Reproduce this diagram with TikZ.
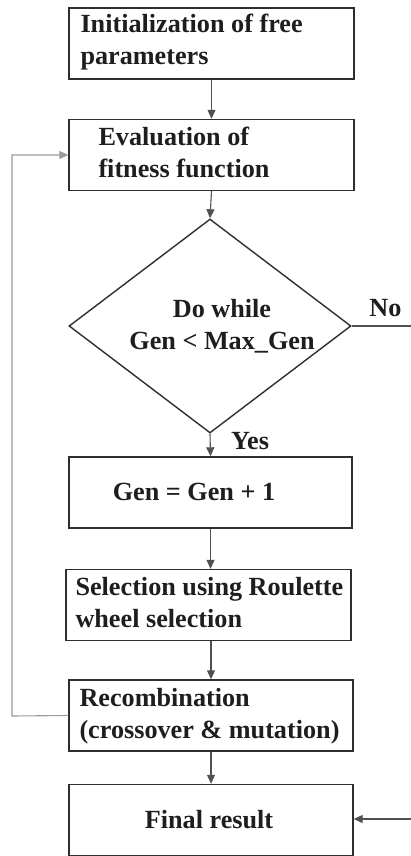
\documentclass[tikz,border=0pt]{standalone}
\usepackage{fontspec}
\setmainfont{Liberation Serif}
\usetikzlibrary{arrows.meta,shapes.geometric}
\definecolor{edge}{HTML}{2E2E2E}
\definecolor{wire}{HTML}{505050}
\definecolor{loopwire}{HTML}{9A9A9A}
\definecolor{ink}{HTML}{1E1E1E}
\tikzset{
  box/.style={draw=edge, line width=1.4pt, minimum width=285pt, minimum height=71pt, inner sep=0pt},
  txt/.style={font=\fontsize{26.2}{32}\selectfont\bfseries, align=left, inner sep=0pt, text=ink},
  flow/.style={draw=wire, line width=1.1pt, -{Triangle[length=9pt,width=8pt]}},
  back/.style={draw=loopwire, line width=1.1pt, -{Triangle[length=9pt,width=8pt]}},
}
\begin{document}
\begin{tikzpicture}[x=1pt,y=-1pt]
\useasboundingbox (0,0) rectangle (411,856);

% process boxes
\node[box] (init) at (211.5,43.5) {};
\node[box] (eval) at (211.5,155) {};
\node[draw=edge, line width=1.4pt, diamond, minimum width=282pt, minimum height=214pt, inner sep=0pt] (cond) at (210,326) {};
\node[box, minimum width=283pt] (incr) at (210.5,492.5) {};
\node[box] (sel) at (208.5,605) {};
\node[box, minimum width=284pt] (rec) at (211,715.5) {};
\node[box, minimum width=284pt] (fin) at (211,820) {};

% texts
\node[txt, anchor=west] (tinit) at ([xshift=12pt,yshift=1pt]init.west) {Initialization of free\\parameters};
\node[txt, anchor=west] (teval) at ([xshift=30pt,yshift=3pt]eval.west) {Evaluation of\\fitness function};
\node[txt, align=center] (tcond) at (222,326) {Do while\\Gen < Max\_Gen};
\node[txt] (tincr) at (194,492) {Gen = Gen + 1};
\node[txt, anchor=west] (tsel) at ([xshift=10pt,yshift=2pt]sel.west) {Selection using Roulette\\wheel selection};
\node[txt, anchor=west] (trec) at ([xshift=11pt,yshift=-1pt]rec.west) {Recombination\\(crossover \& mutation)};
\node[txt] (tfin) at (209,820) {Final result};

% branch labels
\node[txt] (lno) at (385.5,308) {No};
\node[txt] (lyes) at (250,441) {Yes};

% connectors
\coordinate (noend) at (411,326);
\coordinate (finin) at (411,819);
\coordinate (lpbot) at (12,716);
\coordinate (lptop) at (12,155);

\draw[flow] (init.south) -- (eval.north);
\draw[flow] (eval.south) -- (cond.north);
\draw[flow] (cond.south) -- (incr.north);
\draw[flow] (incr.south) -- (sel.north -| incr.south);
\draw[flow] (sel.south -| rec.north) -- (rec.north);
\draw[flow] (rec.south) -- (fin.north);
\draw[draw=wire, line width=1.1pt] (cond.east) -- (noend);
\draw[flow] (finin) -- (fin.east |- finin);
\draw[back] (rec.west) -- (lpbot) -- (lptop) -- (eval.west);
\end{tikzpicture}
\end{document}
